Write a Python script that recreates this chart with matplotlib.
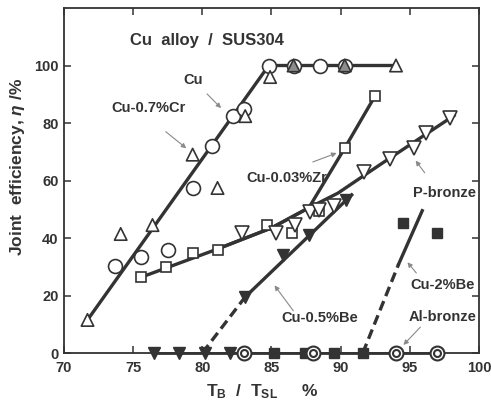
import matplotlib
matplotlib.use('Agg')
import matplotlib.pyplot as plt

plt.rcParams['font.family'] = ['Liberation Sans', 'DejaVu Sans']
plt.rcParams['font.weight'] = 'bold'
plt.rcParams['mathtext.fontset'] = 'custom'
plt.rcParams['mathtext.rm'] = 'Liberation Sans:bold'
plt.rcParams['mathtext.it'] = 'Liberation Sans:italic'

INK = '#333333'
ARROW = '#8a8a8a'

# measured points (TB/TSL %, joint efficiency %)
cu_x = [73.7, 75.6, 77.5, 79.3, 80.7, 82.2, 83.0, 84.8, 86.6, 88.5, 90.3]
cu_y = [30.3, 33.4, 35.8, 57.4, 72.0, 82.4, 84.8, 100, 100, 100, 100]

cr_x = [71.7, 74.1, 76.4, 79.3, 81.1, 83.1, 84.9, 86.6, 90.3, 94.0]
cr_y = [11.5, 41.4, 44.5, 69.0, 57.4, 82.4, 96.0, 100, 100, 100]

zr_x = [75.6, 77.4, 79.3, 81.1, 84.7, 86.5, 88.4, 90.3, 92.5]
zr_y = [26.4, 30.0, 34.8, 35.8, 44.5, 41.7, 49.5, 71.3, 89.5]

pb_x = [82.9, 85.3, 86.7, 87.8, 88.4, 89.5, 91.7, 93.6, 95.3, 96.2, 97.9]
pb_y = [41.7, 41.7, 44.5, 49.0, 49.7, 51.0, 63.0, 67.4, 71.3, 76.5, 81.7]

be05_x = [76.5, 78.3, 80.2, 82.0, 83.1, 85.8, 87.7, 90.4]
be05_y = [0, 0, 0, 0, 19.5, 34.0, 41.0, 53.2]

al_x = [83.0, 88.0, 94.0, 97.0]
al_y = [0, 0, 0, 0]

be2_x = [85.2, 87.4, 89.5, 91.6, 94.5, 97.0]
be2_y = [0, 0, 0, 0, 45.2, 41.7]

# hand-drawn trend lines
cu_fit_x = [71.7, 84.8, 94.0]
cu_fit_y = [11.5, 100, 100]
zr_fit_x = [75.6, 81.0, 85.0, 87.7, 90.3, 92.5]
zr_fit_y = [26.4, 36.0, 43.5, 50.5, 71.3, 89.5]
pb_fit_x = [81.0, 85.0, 87.7, 89.8, 93.0, 98.2]
pb_fit_y = [36.0, 43.5, 50.5, 55.6, 66.0, 82.6]
be05_dash_x, be05_dash_y = [80.0, 83.1], [0, 19.5]
be05_solid_x, be05_solid_y = [83.1, 90.8], [19.5, 55.0]
be2_dash_x, be2_dash_y = [91.6, 94.2], [0, 31.0]
be2_solid_x, be2_solid_y = [94.2, 95.9], [31.0, 49.5]
base_x, base_y = [76.5, 97.0], [0, 0]

fig = plt.figure(figsize=(4.91, 4.04), dpi=100)
ax = fig.add_axes([0.1303, 0.1262, 0.8452, 0.854])

lw = 2.4
dash = (0, (3, 1.6))
ax.plot(cu_fit_x, cu_fit_y, color=INK, lw=lw, zorder=2)
ax.plot(zr_fit_x, zr_fit_y, color=INK, lw=lw, zorder=2)
ax.plot(pb_fit_x, pb_fit_y, color=INK, lw=lw, zorder=2)
ax.plot(be05_solid_x, be05_solid_y, color=INK, lw=lw, zorder=2)
ax.plot(be05_dash_x, be05_dash_y, color=INK, lw=lw, ls=dash, zorder=2)
ax.plot(be2_solid_x, be2_solid_y, color=INK, lw=lw, zorder=2)
ax.plot(be2_dash_x, be2_dash_y, color=INK, lw=lw, ls=dash, zorder=2)
ax.plot(base_x, base_y, color=INK, lw=2.0, zorder=2, clip_on=False)

mk = dict(ls='none', clip_on=False, zorder=3)
ax.plot(cu_x, cu_y, marker='o', ms=10, mfc='white', mec=INK, mew=1.2, **mk)
cr_face = ['white'] * len(cr_x)
cr_face[7] = cr_face[8] = '#8c8c8c'
ax.scatter(cr_x, cr_y, marker='^', s=80, facecolors=cr_face, edgecolors=INK,
           linewidths=1.2, zorder=4, clip_on=False)
ax.plot(zr_x, zr_y, marker='s', ms=7.5, mfc='white', mec=INK, mew=1.2, **mk)
ax.plot(pb_x, pb_y, marker='v', ms=10, mfc='white', mec=INK, mew=1.2, **mk)
ax.plot(be05_x, be05_y, marker='v', ms=8.5, mfc=INK, mec=INK, **mk)
ax.plot(be2_x, be2_y, marker='s', ms=7.5, mfc=INK, mec=INK, **mk)
ax.plot(al_x, al_y, marker='o', ms=10, mfc='white', mec=INK, mew=1.5, **mk)
ax.plot(al_x, al_y, marker='o', ms=5, mfc='white', mec=INK, mew=1.5, ls='none',
        clip_on=False, zorder=4)

ax.set_xlim(70, 100)
ax.set_ylim(0, 120)
ax.set_xticks([70, 75, 80, 85, 90, 95, 100])
ax.set_yticks([0, 20, 40, 60, 80, 100])
ax.tick_params(direction='in', length=5, width=1.1, top=True, right=True,
               labelsize=10.5, colors=INK)
ax.tick_params(axis='x', pad=6)
ax.tick_params(axis='y', pad=4)
for s in ax.spines.values():
    s.set_color(INK)
    s.set_linewidth(1.3)

ax.text(0.345, 0.905, 'Cu  alloy  /  SUS304', transform=ax.transAxes,
        ha='center', va='center', fontsize=12, color=INK)

fig.text(0.534, 0.03, r'$\mathrm{T_B}$  /  $\mathrm{T_{SL}}$     %', ha='center',
         va='center', fontsize=12.5, color=INK)
fig.text(0.035, 0.587, r'Joint  efficiency, $\eta$ /%', rotation=90,
         ha='center', va='center', fontsize=12.5, color=INK)

arrow = dict(arrowstyle='-|>', color=ARROW, lw=0.8, mutation_scale=7)
notes = [
    ('Cu', (81.5, 84.5), (79.35, 95.0), (80.2, 90.8)),
    ('Cu-0.7%Cr', (79.0, 70.6), (76.1, 85.2), (77.2, 77.6)),
    ('Cu-0.03%Zr', (89.9, 69.9), (86.1, 60.9), (87.8, 66.1)),
    ('P-bronze', (95.3, 67.7), (97.5, 55.5), (96.2, 61.9)),
    ('Cu-0.5%Be', (85.1, 24.3), (88.5, 12.2), (86.7, 13.9)),
    ('Cu-2%Be', (94.7, 32.3), (97.4, 23.8), (95.6, 27.1)),
    ('Al-bronze', (94.4, 2.1), (97.4, 12.5), (95.9, 9.7)),
]
for label, tip, txt, tail in notes:
    ax.annotate('', xy=tip, xytext=tail, arrowprops=arrow, zorder=5)
    ax.text(txt[0], txt[1], label, ha='center', va='center', fontsize=10.5,
            color=INK, zorder=5)

fig.savefig('out.png', dpi=100, facecolor='white')
